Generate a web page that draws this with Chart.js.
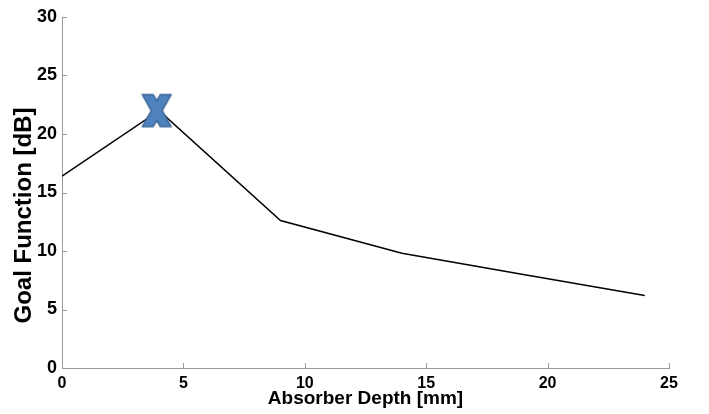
<!DOCTYPE html>
<html>
<head>
<meta charset="utf-8">
<script src="https://cdn.jsdelivr.net/npm/chart.js@4/dist/chart.umd.min.js"></script>
<style>
  html, body { margin: 0; padding: 0; background: #fff; }
  #wrap { width: 709px; height: 414px; }
</style>
</head>
<body>
<div id="wrap"><canvas id="goalChart" width="709" height="414"></canvas></div>
<script>
// Goal function vs. absorber depth
const depthMm = [0, 4, 9, 14, 19, 24];
const goalDb = [16.4, 22.0, 12.6, 9.8, 8.0, 6.2];

// optimum marker
const bestDepth = [3.9];
const bestGoal = [22.0];

const xTicks = [0, 5, 10, 15, 20, 25];
const yTicks = [0, 5, 10, 15, 20, 25, 30];

const yTitle = 'Goal Function [dB]';

const axisGray = '#9a9a9a';
const fontFamily = '"Liberation Sans", Arial, sans-serif';

// blue "X" marker drawn once on its own canvas, used as pointStyle
const makeCross = () => {
    const W = 29, H = 32, d = 11;
    const hw = W / 2, hh = H / 2;
    const c = document.createElement('canvas');
    c.width = W + 4;
    c.height = H + 4;
    const g = c.getContext('2d');
    g.translate(c.width / 2, c.height / 2);
    // where the inner edges of the two arms meet
    const notchY = -hh + H * (hw - d) / (W - d);
    const notchX = -hw + (W - d) / 2;
    const pts = [
        [-hw, -hh], [-hw + d, -hh], [0, notchY], [hw - d, -hh], [hw, -hh],
        [-notchX, 0],
        [hw, hh], [hw - d, hh], [0, -notchY], [-hw + d, hh], [-hw, hh],
        [notchX, 0]
    ];
    g.beginPath();
    pts.forEach(([px, py], i) => (i ? g.lineTo(px, py) : g.moveTo(px, py)));
    g.closePath();
    g.fillStyle = '#4f81bd';
    g.fill();
    g.lineJoin = 'round';
    g.lineWidth = 1.5;
    g.strokeStyle = '#3a6596';
    g.stroke();
    return c;
};

// MATLAB style tick marks pointing into the plot
const inwardTicks = {
    id: 'inwardTicks',
    afterDraw(chart) {
        const { ctx, chartArea, scales } = chart;
        ctx.save();
        ctx.strokeStyle = axisGray;
        ctx.lineWidth = 1;
        ctx.beginPath();
        xTicks.forEach(v => {
            const px = Math.round(scales.x.getPixelForValue(v)) + 0.5;
            ctx.moveTo(px, chartArea.bottom);
            ctx.lineTo(px, chartArea.bottom - 5);
        });
        yTicks.forEach(v => {
            const py = Math.round(scales.y.getPixelForValue(v)) + 0.5;
            ctx.moveTo(chartArea.left, py);
            ctx.lineTo(chartArea.left + 5, py);
        });
        ctx.stroke();
        ctx.restore();
    }
};

// y axis title, sitting a little below the middle of the axis
const sideTitle = {
    id: 'sideTitle',
    afterDraw(chart) {
        const { ctx, chartArea } = chart;
        const midY = (chartArea.top + chartArea.bottom) / 2 + 23;
        ctx.save();
        ctx.translate(chartArea.left - 38, midY);
        ctx.rotate(-Math.PI / 2);
        ctx.font = `bold 24px ${fontFamily}`;
        ctx.fillStyle = '#000';
        ctx.textAlign = 'center';
        ctx.textBaseline = 'middle';
        ctx.fillText(yTitle, 0, 0);
        ctx.restore();
    }
};

new Chart(document.getElementById('goalChart'), {
    type: 'scatter',
    data: {
        datasets: [
            {
                label: 'Optimum',
                data: bestDepth.map((x, i) => ({ x, y: bestGoal[i] })),
                pointStyle: makeCross(),
                pointRadius: 16,
                showLine: false,
                order: 0
            },
            {
                label: 'Goal Function',
                data: depthMm.map((x, i) => ({ x, y: goalDb[i] })),
                showLine: true,
                borderColor: '#000',
                borderWidth: 1.5,
                pointRadius: 0,
                tension: 0,
                order: 1
            }
        ]
    },
    options: {
        responsive: false,
        animation: false,
        layout: { padding: { top: 14, right: 40, left: 0, bottom: 0 } },
        plugins: {
            legend: { display: false },
            tooltip: { enabled: false }
        },
        scales: {
            x: {
                type: 'linear',
                min: 0,
                max: 25,
                afterBuildTicks: s => { s.ticks = xTicks.map(value => ({ value })); },
                afterFit: s => { s.height = 46; },
                grid: { drawOnChartArea: false, drawTicks: false },
                border: { display: true, color: axisGray, width: 1 },
                ticks: {
                    color: '#000',
                    padding: 6,
                    maxRotation: 0,
                    font: { family: fontFamily, size: 16, weight: 'bold' }
                },
                title: {
                    display: true,
                    text: 'Absorber Depth [mm]',
                    color: '#000',
                    padding: { top: 0, bottom: 4 },
                    font: { family: fontFamily, size: 19, weight: 'bold' }
                }
            },
            y: {
                type: 'linear',
                min: 0,
                max: 30,
                afterBuildTicks: s => { s.ticks = yTicks.map(value => ({ value })); },
                afterFit: s => { s.width = 62; },
                grid: { drawOnChartArea: false, drawTicks: false },
                border: { display: true, color: axisGray, width: 1 },
                ticks: {
                    color: '#000',
                    padding: 5,
                    font: { family: fontFamily, size: 18, weight: 'bold' }
                }
            }
        }
    },
    plugins: [inwardTicks, sideTitle]
});
</script>
</body>
</html>
